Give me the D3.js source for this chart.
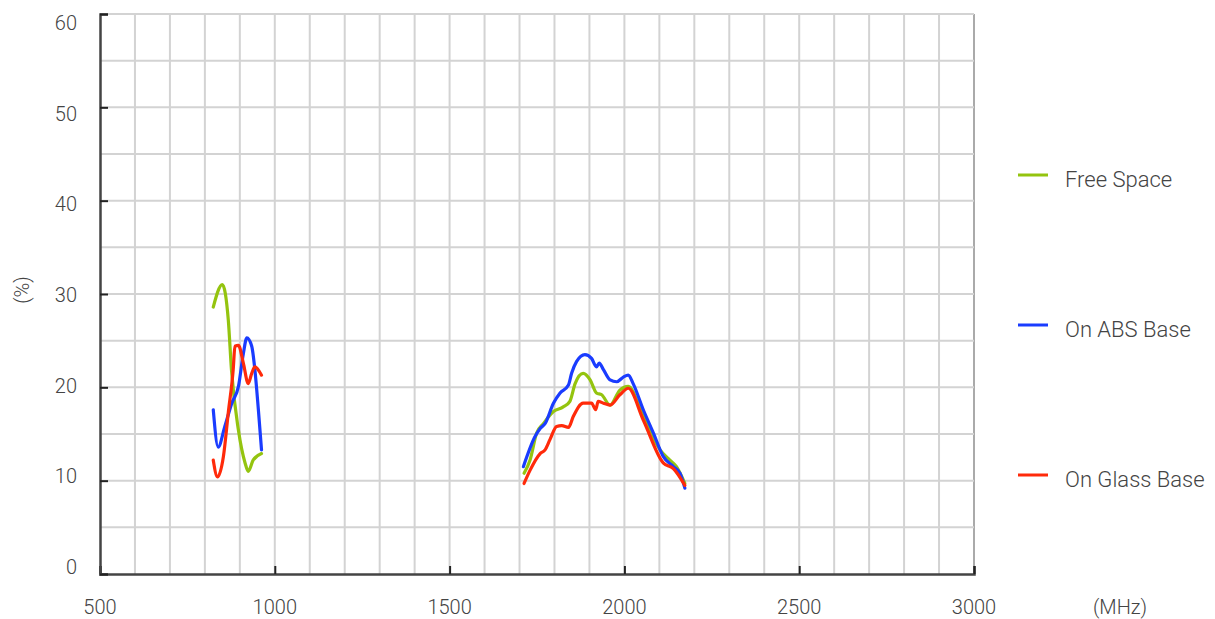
<!DOCTYPE html>
<html><head><meta charset="utf-8">
<script src="https://cdn.jsdelivr.net/npm/d3@7"></script>
<style>
body{margin:0;background:#fff;}
text{font-family:Roboto,"DejaVu Sans",sans-serif;font-weight:300;fill:#444;}
</style></head>
<body><svg id="c" width="1215" height="619"></svg>
<script>
const xTicks = [500,1000,1500,2000,2500,3000];
const yTicks = [0,10,20,30,40,50,60];
const seriesNames = ["Free Space","On ABS Base","On Glass Base"];
const seriesColors = ["#94c40f","#1a3cff","#ff2a0a"];

// Free Space
const freeLow = [[824,28.6],[850,31.0],[867,27.2],[876,21.9],[896,15.4],[915,11.9],[924,11.0],[938,12.2],[962,12.9]];
const freeHigh = [[1713,10.8],[1730,12.2],[1749,15.1],[1768,16.1],[1797,17.4],[1825,17.9],[1844,18.5],[1859,20.4],[1882,21.5],[1902,20.8],[1920,19.4],[1935,19.2],[1959,18.1],[1987,19.7],[2011,20.1],[2054,16.9],[2102,13.3],[2130,12.2],[2149,11.5],[2173,9.7]];
// On ABS Base
const absLow = [[824,17.6],[838,13.6],[857,15.8],[877,18.3],[896,20.1],[910,23.6],[920,25.3],[934,24.4],[943,21.9],[953,17.6],[962,13.3]];
const absHigh = [[1711,11.5],[1744,14.7],[1759,15.6],[1773,16.1],[1797,18.3],[1816,19.4],[1840,20.25],[1849,21.5],[1863,22.75],[1887,23.5],[1906,23.1],[1920,22.2],[1928,22.6],[1940,21.9],[1959,20.8],[1978,20.6],[1997,21.1],[2011,21.3],[2025,20.4],[2054,17.6],[2083,15.1],[2111,12.6],[2140,11.5],[2159,10.8],[2173,9.2]];
// On Glass Base
const glassLow = [[824,12.2],[836,10.4],[853,12.6],[867,17.3],[881,21.9],[886,24.4],[896,24.5],[910,22.6],[924,20.4],[934,21.5],[943,22.2],[962,21.3]];
const glassHigh = [[1713,9.7],[1730,11.1],[1759,12.9],[1773,13.3],[1787,14.4],[1806,15.8],[1821,15.9],[1840,15.7],[1854,16.9],[1882,18.3],[1906,18.3],[1918,17.6],[1925,18.5],[1940,18.3],[1959,18.1],[1987,19.2],[2011,19.9],[2054,16.5],[2111,11.9],[2140,11.3],[2173,9.5]];

const seriesData = [[freeLow,freeHigh],[absLow,absHigh],[glassLow,glassHigh]];

const svg = d3.select("#c");
const x = d3.scaleLinear().domain([500,3000]).range([100,974]);
const y = d3.scaleLinear().domain([0,60]).range([574,14]);
const yLab = d3.scaleLinear().domain([0,60]).range([567,23]);

// grid
const g = svg.append("g");
g.selectAll(".vg").data(d3.range(600,3001,100)).join("line")
  .attr("x1",d=>x(d)).attr("x2",d=>x(d)).attr("y1",y(60)).attr("y2",y(0))
  .attr("stroke",d=>d===3000?"#aaa":"#d3d3d3").attr("stroke-width",2);
g.selectAll(".hg").data(d3.range(5,61,5)).join("line")
  .attr("x1",x(500)).attr("x2",x(3000)).attr("y1",d=>y(d)).attr("y2",d=>y(d))
  .attr("stroke","#d3d3d3").attr("stroke-width",2);

// axes
const ax = svg.append("g").attr("transform",`translate(0,${y(0)})`)
  .call(d3.axisBottom(x).tickValues(xTicks).tickSize(-8).tickFormat(""));
ax.select(".domain").attr("stroke","#444").attr("stroke-width",2.5);
ax.selectAll(".tick line").attr("stroke","#222").attr("stroke-width",2);
const ay = svg.append("g").attr("transform",`translate(${x(500)},0)`)
  .call(d3.axisLeft(y).tickValues(yTicks).tickSize(-8).tickFormat(""));
ay.select(".domain").attr("stroke","#444").attr("stroke-width",2.5);
ay.selectAll(".tick line").attr("stroke","#222").attr("stroke-width",2);

// tick labels
svg.selectAll(".xl").data(xTicks).join("text")
  .attr("x",d=>x(d)).attr("y",614).attr("text-anchor","middle")
  .attr("font-size",20).text(d=>d);
svg.selectAll(".yl").data(yTicks).join("text")
  .attr("x",77).attr("y",d=>yLab(d)).attr("dy","0.35em").attr("text-anchor","end")
  .attr("font-size",20).text(d=>d);
svg.append("text").attr("x",1120).attr("y",614).attr("text-anchor","middle")
  .attr("font-size",20).text("(MHz)");
svg.append("text").attr("transform","translate(29,290) rotate(-90)")
  .attr("text-anchor","middle").attr("font-size",20).text("(%)");

// lines
const line = d3.line().x(d=>x(d[0])).y(d=>y(d[1])).curve(d3.curveMonotoneX);
seriesData.forEach((segs,i)=>{
  segs.forEach(seg=>{
    svg.append("path").attr("d",line(seg)).attr("fill","none")
      .attr("stroke",seriesColors[i]).attr("stroke-width",3.2)
      .attr("stroke-linejoin","round").attr("stroke-linecap","round");
  });
});

// legend
const legY = [175,325,475];
seriesNames.forEach((n,i)=>{
  svg.append("line").attr("x1",1018).attr("x2",1048).attr("y1",legY[i]).attr("y2",legY[i])
    .attr("stroke",seriesColors[i]).attr("stroke-width",3);
  svg.append("text").attr("x",1065).attr("y",legY[i]+4.5).attr("dy","0.35em")
    .attr("font-size",22).text(n);
});
</script></body></html>
